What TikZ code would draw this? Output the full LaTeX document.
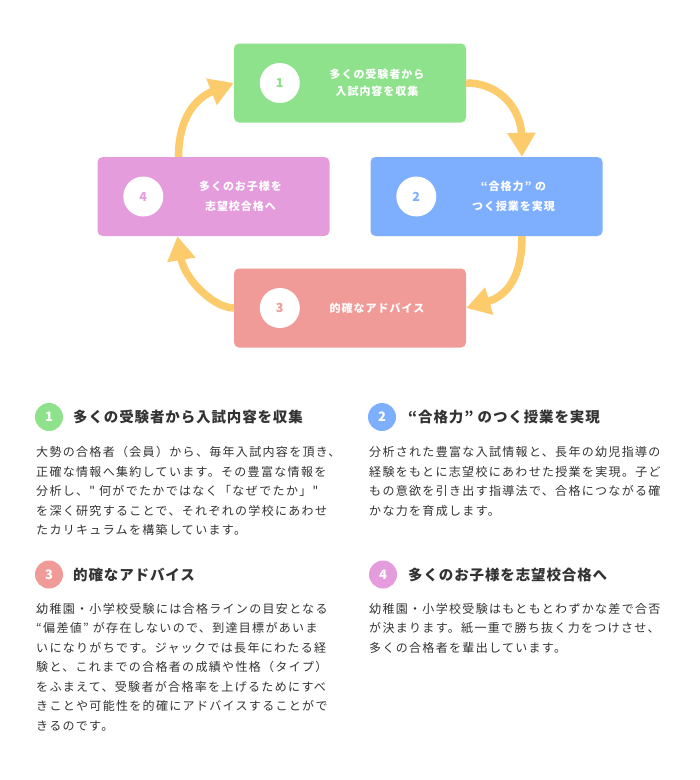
\documentclass[tikz,border=0pt]{standalone}
\usepackage{fontspec}
\setmainfont{Noto Sans CJK JP}
\newfontfamily\jpbox[LetterSpace=9]{Noto Sans CJK JP}
\newfontfamily\jpbody[LetterSpace=11]{Noto Sans CJK JP}
\newfontfamily\jphead[LetterSpace=6]{Noto Sans CJK JP}
\usetikzlibrary{arrows.meta,calc}
\definecolor{cg}{HTML}{8DE28B}
\definecolor{cb}{HTML}{7EAEFE}
\definecolor{cr}{HTML}{F09B98}
\definecolor{cp}{HTML}{E49CDC}
\definecolor{cy}{HTML}{FCCB6B}
\definecolor{ctext}{HTML}{333333}
\tikzset{
  box/.style={rounded corners=5pt, minimum width=232pt, minimum height=79pt, inner sep=0pt},
  numc/.style={circle, fill=white, minimum size=40pt, inner sep=0pt, font=\bfseries\fontsize{12.5}{14}\selectfont},
  boxtxt/.style={text=white, align=center, inner sep=0pt, font=\jpbox\bfseries\fontsize{11}{17}\selectfont},
  boxtxtw/.style={boxtxt, font=\jpbox\bfseries\fontsize{11}{20}\selectfont},
  flow/.style={draw=cy, line width=7.5pt, -{Triangle[width=27pt,length=24pt]}},
  hc/.style={circle, minimum size=28pt, inner sep=0pt, text=white, font=\bfseries\fontsize{13}{15}\selectfont},
  head/.style={anchor=west, inner sep=0pt, text=ctext, text height=12.76pt, text depth=1.74pt, font=\jphead\bfseries\fontsize{14.5}{17}\selectfont},
  body/.style={anchor=west, inner sep=0pt, text=ctext, text height=10.56pt, text depth=1.44pt, font=\jpbody\fontsize{12}{14}\selectfont}
}
\begin{document}
\begin{tikzpicture}[x=1pt,y=-1pt]
\useasboundingbox (0,0) rectangle (700,780);
\fill[white] (0,0) rectangle (700,780);

% boxes
\node[box, fill=cg] (b1) at (350,83) {};
\node[box, fill=cb] (b2) at (486.5,196.5) {};
\node[box, fill=cr] (b3) at (350,308) {};
\node[box, fill=cp] (b4) at (213.5,196.5) {};

\node[numc, text=cg] (n1) at ($(b1.west)+(46,0)$) {1};
\node[numc, text=cb] (n2) at ($(b2.west)+(46,0)$) {2};
\node[numc, text=cr] (n3) at ($(b3.west)+(46,0)$) {3};
\node[numc, text=cp] (n4) at ($(b4.west)+(46,0)$) {4};

\node[boxtxt] (t1) at ($(b1.center)+(27,0)$) {多くの受験者から\\入試内容を収集};
\node[boxtxtw] (t2) at ($(b2.center)+(27,0)$) {“合格力” の\\つく授業を実現};
\node[boxtxt] (t3) at ($(b3.center)+(27,0)$) {的確なアドバイス};
\node[boxtxtw] (t4) at ($(b4.center)+(27,0)$) {多くのお子様を\\志望校合格へ};

% connector end points
\coordinate (e12) at ($(b2.north)+(35.5,0)$);
\coordinate (s23) at ($(b2.south)+(35.5,0)$);
\coordinate (e34) at ($(b4.south)+(-36,0)$);
\coordinate (s41) at ($(b4.north)+(-35,0)$);

\draw[flow] (b1.east) .. controls +(36,0) and +(-1,-45) .. (e12);
\draw[flow] (s23) .. controls +(0,42) and +(40,-12) .. (b3.east);
\draw[flow] (b3.west) .. controls +(-20,0) and +(7,43) .. (e34);
\draw[flow] (s41) .. controls +(0,-39) and +(-38,15) .. (b1.west);

% lower section headings
\node[hc, fill=cg] (h1c) at (49,417) {1};
\node[head] (h1) at (73,417) {多くの受験者から入試内容を収集};
\node[hc, fill=cb] (h2c) at (382,417) {2};
\node[head] (h2) at (408,417) {“合格力” のつく授業を実現};
\node[hc, fill=cr] (h3c) at (49,574.5) {3};
\node[head] (h3) at (73,574.5) {的確なアドバイス};
\node[hc, fill=cp] (h4c) at (383,574.5) {4};
\node[head] (h4) at (408,574.5) {多くのお子様を志望校合格へ};

% bodies
\foreach \t [count=\i from 0] in {
  {大勢の合格者（会員）から、毎年入試内容を頂き、},
  {正確な情報へ集約しています。その豊富な情報を},
  {分析し、" 何がでたかではなく「なぜでたか」"},
  {を深く研究することで、それぞれの学校にあわせ},
  {たカリキュラムを構築しています。}}
  \node[body] (pa\i) at (36,452.3+19.5*\i) {\t};

\foreach \t [count=\i from 0] in {
  {分析された豊富な入試情報と、長年の幼児指導の},
  {経験をもとに志望校にあわせた授業を実現。子ど},
  {もの意欲を引き出す指導法で、合格につながる確},
  {かな力を育成します。}}
  \node[body] (pb\i) at (369,452.3+19.5*\i) {\t};

\foreach \t [count=\i from 0] in {
  {幼稚園・小学校受験には合格ラインの目安となる},
  {“偏差値” が存在しないので、到達目標があいま},
  {いになりがちです。ジャックでは長年にわたる経},
  {験と、これまでの合格者の成績や性格（タイプ）},
  {をふまえて、受験者が合格率を上げるためにすべ},
  {きことや可能性を的確にアドバイスすることがで},
  {きるのです。}}
  \node[body] (pc\i) at (36,608.5+19.5*\i) {\t};

\foreach \t [count=\i from 0] in {
  {幼稚園・小学校受験はもともとわずかな差で合否},
  {が決まります。紙一重で勝ち抜く力をつけさせ、},
  {多くの合格者を輩出しています。}}
  \node[body] (pd\i) at (369,608.5+19.5*\i) {\t};
\end{tikzpicture}
\end{document}
